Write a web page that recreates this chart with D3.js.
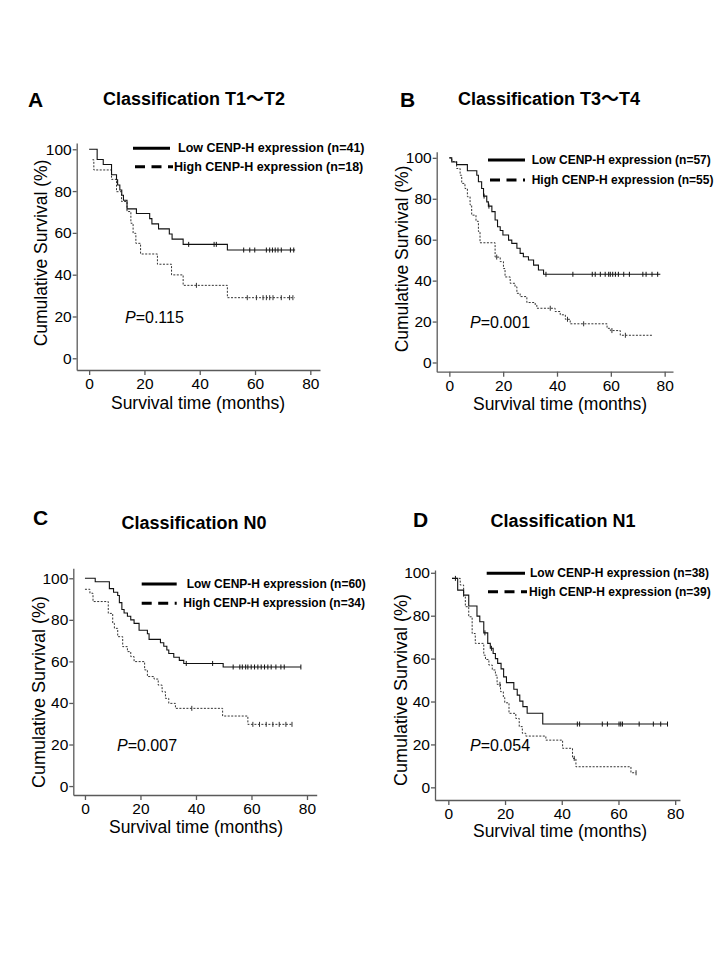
<!DOCTYPE html>
<html>
<head>
<meta charset="utf-8">
<script src="https://cdn.jsdelivr.net/npm/d3@7"></script>
<style>
  html, body { margin: 0; padding: 0; background: #fff; }
  svg { display: block; }
  text { font-family: Arial, "Liberation Sans", "Noto Sans CJK SC", sans-serif; fill: #000; }
</style>
</head>
<body>
<svg id="chart" width="720" height="960"></svg>
<script>
// ---------------- DATA ----------------
const panelLetters = ["A", "B", "C", "D"];
const panelTitles = ["Classification T1～T2", "Classification T3～T4", "Classification N0", "Classification N1"];
const lowLabels = ["Low CENP-H expression (n=41)", "Low CENP-H expression (n=57)", "Low CENP-H expression (n=60)", "Low CENP-H expression (n=38)"];
const highLabels = ["High CENP-H expression (n=18)", "High CENP-H expression (n=55)", "High CENP-H expression (n=34)", "High CENP-H expression (n=39)"];
const pValues = ["0.115", "0.001", "0.007", "0.054"];
const xTicks = [0, 20, 40, 60, 80];
const yTicks = [0, 20, 40, 60, 80, 100];
const xTitle = "Survival time (months)";
const yTitle = "Cumulative Survival (%)";

// Kaplan-Meier steps: [time (months), survival (%)] ; last point = end of follow-up
const lowA = [[0,100],[2.9,95.1],[5.1,92.7],[8.1,87.8],[9.9,85.4],[10.3,82.9],[11.1,80.5],[11.8,78.0],[12.4,75.6],[13.7,71.5],[17.1,69.3],[21.9,66.8],[22.7,64.3],[25.1,61.9],[29,59.5],[30,57.0],[34,54.5],[50,51.8],[74.5,51.8]];
const lowACensor = [36,45.2,46,55.9,58.1,59.9,64.1,65.3,66.3,67.3,68.3,69.5,72.8,74];
const highA = [[1.2,95],[1.7,90.1],[8.1,85.6],[9.9,79.7],[11.7,75],[13.7,70.2],[15.1,64.6],[15.9,59.8],[16.9,55],[18.6,49.9],[24.7,45],[29.8,39.9],[34,34.9],[50,29],[74.3,29]];
const highACensor = [38.8,57.2,60.5,62.9,64.1,65.3,66.5,69.5,72.5,73.7];

const lowB = [[0,100],[0.9,98],[2.7,96.7],[6.7,93.7],[10.2,91.5],[10.8,88.3],[12,85],[12.7,81.3],[13.9,78.5],[14.5,76.4],[15.8,73.7],[17,69.6],[17.9,66.3],[18.9,64.5],[19.9,62.3],[22,59.8],[23.2,58.2],[25.1,55.8],[26.3,53.3],[27.5,51.7],[29.4,50.1],[31.3,47.6],[33.1,45.2],[35,43.1],[78.4,43.1]];
const lowBCensor = [12.9,14.7,35.9,45.9,53.1,54.2,56.1,57.9,59.2,59.8,60.7,61.7,62.8,64.8,66.9,71.9,73.1,75.3,77.4];
const highB = [[0,100],[0.9,98.2],[2.7,94.8],[4,91.5],[4.6,87.5],[5.8,85],[6.7,81],[7.7,77],[8.3,72],[9.9,69],[10.8,64],[11.4,58.5],[17,51.5],[18.9,49.3],[20.1,45.9],[20.7,41.8],[22.6,38.7],[24.4,37],[25.1,33.8],[26.3,32.2],[28.8,29.3],[31.9,28.1],[32.5,26.5],[39.3,24.9],[41.2,23.3],[43.1,21.1],[44.9,18.9],[58.6,16.7],[59.8,15.6],[63.5,13.3],[75.3,13.3]];
const highBCensor = [17.6,37.5,43.9,49.9,60.4,65.4];

const lowC = [[0,100],[3.7,98.3],[8.8,95],[10.3,93.3],[11.8,91.7],[12.4,88.3],[13.3,85],[14.1,83.3],[15.3,81.7],[16.5,80],[17.7,78.3],[19.5,75],[22.5,73.3],[23.1,70.6],[27.2,69],[28.4,67.3],[29.5,65.5],[30.2,63.8],[32,62],[34,60.5],[35.6,59],[49.8,57.3],[77.8,57.3]];
const lowCCensor = [36.5,46,53.4,55.8,56.7,57.9,58.7,59.9,61.1,62.3,63.5,64.7,65.9,67.1,68.8,70.6,71.8,77.8];
const highC = [[0,94.7],[1.8,92.8],[2.9,88.8],[8.4,83.1],[10,78.3],[10.6,75.9],[11.8,71.9],[13.6,67.1],[15.3,64.7],[16.5,62.3],[17.7,59.9],[21.5,55.9],[22.5,52.7],[24.9,51.5],[26.4,48.6],[27.8,45.4],[29,42.2],[30.2,39.8],[32.6,37.4],[49.6,33.7],[58.7,29.7],[74.6,29.7]];
const highCCensor = [38.5,60.5,62.9,65.3,67.7,70,72.4,74.6];

const lowD = [[1.3,97.4],[3.3,91.9],[5.4,89.6],[7.2,84.5],[10.1,79.8],[11.1,77.2],[12.5,72],[13.9,67.1],[14.8,64.8],[15.8,62.4],[16.6,60],[17.4,57.8],[18.6,55.2],[19.5,51.5],[20.5,48.8],[23.1,45.7],[24.3,43],[25.2,40.2],[26.3,37.6],[27.8,34.5],[33.3,29.5],[77.3,29.5]];
const lowDCensor = [2.5,12.9,15.2,45.5,46.3,54.3,56.1,60.2,60.8,61.4,67.3,72.3,74.9,77.3];
const highD = [[1.3,97.4],[4.2,94.3],[5.4,88.8],[6,84.2],[7.2,79.5],[8.4,71.7],[9.5,67.1],[12.5,61.6],[13.1,59.6],[14.3,57],[15.5,54.7],[16.6,52.3],[17.2,48],[18.4,44.6],[19.4,41.9],[19.9,39.4],[21.4,34.5],[23.8,32.1],[25,28.3],[26.1,25.2],[27.3,23.9],[34.4,22],[40.3,18.2],[43.8,13.5],[45,9.6],[64.4,6.8],[66.2,6.8]];
const highDCensor = [18.2,44.4,66.2];

const lowCurves = [lowA, lowB, lowC, lowD];
const lowCensors = [lowACensor, lowBCensor, lowCCensor, lowDCensor];
const highCurves = [highA, highB, highC, highD];
const highCensors = [highACensor, highBCensor, highCCensor, highDCensor];

// ---------------- LAYOUT (positions / sizes) ----------------
const layout = [
  { xd:[-4.5,83.5], xr:[76.7,320], yd:[-5.6,103], yr:[370,143],
    letter:[28,107], title:[194,105], p:[125,323], yLab:[41,253], xLab:[198,409], yLabSize:17.5,
    leg1:{x1:133,x2:170,y:148.3,tx:178}, leg2:{x1:135,x2:173,y:166.7,tx:174}, legSize:12.5 },
  { xd:[-4.7,83.1], xr:[436.7,673], yd:[-4.5,103], yr:[371.7,151.7],
    letter:[400,107], title:[549,105], p:[470,328], yLab:[402,259], xLab:[560,410], yLabSize:17.5,
    leg1:{x1:488,x2:525,y:160,tx:531.7}, leg2:{x1:490,x2:525,y:180,tx:531.7}, legSize:12 },
  { xd:[-4.2,83.5], xr:[73.3,316.7], yd:[-4.3,104.8], yr:[795,568.3],
    letter:[33,525], title:[194,529], p:[117,751], yLab:[39,692], xLab:[196,833], yLabSize:18,
    leg1:{x1:141.7,x2:176.7,y:584,tx:186.7}, leg2:{x1:141.7,x2:176.7,y:603.3,tx:183.3}, legSize:12 },
  { xd:[-4.7,81.7], xr:[435,680], yd:[-5.9,101.3], yr:[800,570],
    letter:[413,527], title:[563,527], p:[470,751], yLab:[401,690], xLab:[560,837], yLabSize:18,
    leg1:{x1:486.7,x2:525,y:573.3,tx:530}, leg2:{x1:488,x2:527,y:591.7,tx:529}, legSize:12 }
];

// ---------------- DRAW ----------------
const svg = d3.select("#chart");
svg.append("rect").attr("width", 720).attr("height", 960).attr("fill", "#fff");

function survAt(steps, t) {
  let s = steps[0][1];
  for (const [tt, v] of steps) { if (tt <= t) s = v; }
  return s;
}

layout.forEach((L, i) => {
  const g = svg.append("g");
  const x = d3.scaleLinear().domain(L.xd).range(L.xr);
  const y = d3.scaleLinear().domain(L.yd).range(L.yr);
  const axisColor = "#5a5a5a";

  const xAxis = g.append("g")
    .attr("transform", `translate(0,${L.yr[0]})`)
    .call(d3.axisBottom(x).tickValues(xTicks).tickSize(5).tickSizeOuter(0).tickPadding(3));
  const yAxis = g.append("g")
    .attr("transform", `translate(${L.xr[0]},0)`)
    .call(d3.axisLeft(y).tickValues(yTicks).tickSize(4).tickSizeOuter(0).tickPadding(1));
  [xAxis, yAxis].forEach(a => {
    a.select(".domain").attr("stroke", axisColor).attr("stroke-width", 1.3);
    a.selectAll(".tick line").attr("stroke", axisColor).attr("stroke-width", 1.3);
    a.selectAll(".tick text").attr("font-size", 15.5).attr("fill", "#000")
      .attr("font-family", 'Arial, "Liberation Sans", sans-serif');
  });

  const line = d3.line().x(d => x(d[0])).y(d => y(d[1])).curve(d3.curveStepAfter);

  g.append("path").datum(highCurves[i]).attr("d", line)
    .attr("fill", "none").attr("stroke", "#333").attr("stroke-width", 1)
    .attr("stroke-dasharray", "2,1.5");
  g.selectAll(".ch").data(highCensors[i]).enter().append("line")
    .attr("x1", d => x(d)).attr("x2", d => x(d))
    .attr("y1", d => y(survAt(highCurves[i], d)) - 2.5)
    .attr("y2", d => y(survAt(highCurves[i], d)) + 2.5)
    .attr("stroke", "#333").attr("stroke-width", 1);

  g.append("path").datum(lowCurves[i]).attr("d", line)
    .attr("fill", "none").attr("stroke", "#111").attr("stroke-width", 1.1);
  g.selectAll(".cl").data(lowCensors[i]).enter().append("line")
    .attr("x1", d => x(d)).attr("x2", d => x(d))
    .attr("y1", d => y(survAt(lowCurves[i], d)) - 2.5)
    .attr("y2", d => y(survAt(lowCurves[i], d)) + 2.5)
    .attr("stroke", "#111").attr("stroke-width", 1);

  g.append("text").attr("x", L.letter[0]).attr("y", L.letter[1])
    .attr("font-size", 21).attr("font-weight", "bold").text(panelLetters[i]);
  g.append("text").attr("x", L.title[0]).attr("y", L.title[1]).attr("text-anchor", "middle")
    .attr("font-size", 18).attr("font-weight", "bold").text(panelTitles[i]);

  g.append("text").attr("transform", `translate(${L.yLab[0]},${L.yLab[1]}) rotate(-90)`)
    .attr("text-anchor", "middle").attr("dominant-baseline", "central")
    .attr("font-size", L.yLabSize).text(yTitle);
  g.append("text").attr("x", L.xLab[0]).attr("y", L.xLab[1]).attr("text-anchor", "middle")
    .attr("font-size", 17.5).text(xTitle);

  const pt = g.append("text").attr("x", L.p[0]).attr("y", L.p[1]).attr("font-size", 16);
  pt.append("tspan").attr("font-style", "italic").text("P");
  pt.append("tspan").text("=" + pValues[i]);

  g.append("line").attr("x1", L.leg1.x1).attr("x2", L.leg1.x2).attr("y1", L.leg1.y).attr("y2", L.leg1.y)
    .attr("stroke", "#000").attr("stroke-width", 3);
  g.append("text").attr("x", L.leg1.tx).attr("y", L.leg1.y).attr("dominant-baseline", "central")
    .attr("font-size", L.legSize).attr("font-weight", "bold").text(lowLabels[i]);
  g.append("line").attr("x1", L.leg2.x1).attr("x2", L.leg2.x2).attr("y1", L.leg2.y).attr("y2", L.leg2.y)
    .attr("stroke", "#000").attr("stroke-width", 3).attr("stroke-dasharray", "10,6.5");
  g.append("text").attr("x", L.leg2.tx).attr("y", L.leg2.y).attr("dominant-baseline", "central")
    .attr("font-size", L.legSize).attr("font-weight", "bold").text(highLabels[i]);
});
</script>
</body>
</html>
